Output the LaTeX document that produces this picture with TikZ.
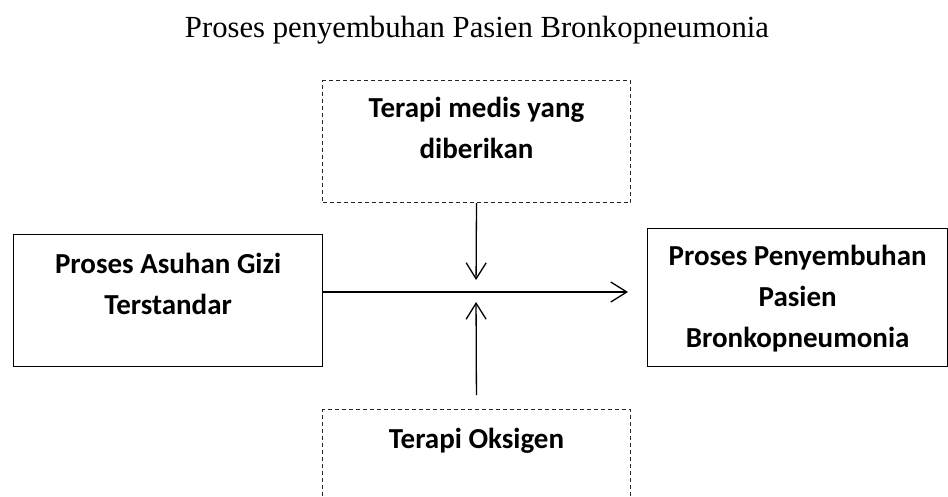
\documentclass[tikz,border=0pt]{standalone}
\usepackage{fontspec}
\setmainfont{Liberation Serif}
\newfontfamily\kotakfont{Carlito}
\usetikzlibrary{arrows.meta, positioning}

\begin{document}
\begin{tikzpicture}[x=1pt, y=-1pt, >={Straight Barb[length=16pt,width=20pt]}, line width=1.3pt]
    \tikzstyle{kotak}=[rectangle, draw=black, inner sep=0pt, anchor=north west, align=flush center, font=\kotakfont\bfseries\fontsize{29}{41}\selectfont]
    \tikzstyle{putus}=[kotak, draw=black!85, line width=1pt, dash pattern=on 4pt off 3pt]

\useasboundingbox (0,0) rectangle (948,496);

\node[anchor=base, font=\fontsize{30.7}{36}\selectfont] (judul) at (477, 37) {Proses penyembuhan Pasien Bronkopneumonia};

\node[kotak, text width=309pt, text height=39pt, text depth=93pt]  (asuhan)  at (13, 234)  {Proses Asuhan Gizi\\Terstandar};
\node[putus, text width=308pt, text height=37pt, text depth=85pt]  (medis)   at (322, 80)  {Terapi medis yang\\diberikan};
\node[putus, text width=308pt, text height=39pt, text depth=82pt]  (oksigen) at (322, 409) {Terapi Oksigen};
\node[kotak, text width=300pt, text height=37pt, text depth=101pt] (sembuh)  at (647, 228) {Proses Penyembuhan\\Pasien\\Bronkopneumonia};

\coordinate (pusat) at (476, 292);

\draw[->, shorten >=19pt] (asuhan.east |- pusat) -- (sembuh.west |- pusat);
\draw[->, shorten >=12pt] (medis.south) -- (pusat);
\draw[->, shorten <=14pt, shorten >=10pt] (oksigen.north) -- (pusat);
\end{tikzpicture}
\end{document}
